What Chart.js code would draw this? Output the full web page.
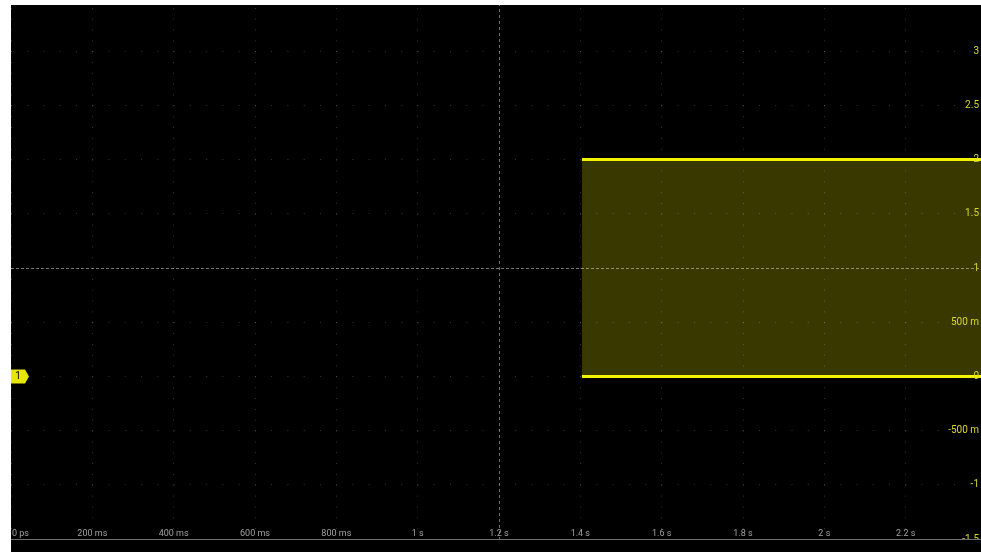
<!DOCTYPE html>
<html>
<head>
<meta charset="utf-8">
<script src="https://cdn.jsdelivr.net/npm/chart.js@4/dist/chart.umd.min.js"></script>
<style>
  html, body { margin: 0; padding: 0; background: #fff; width: 981px; height: 552px; overflow: hidden; }
  #scope { position: absolute; left: 11px; top: 5px; width: 970px; height: 547px; background: #000; overflow: hidden; }
  #plot { position: absolute; left: 0; top: -8px; width: 976px; height: 543px; }
</style>
</head>
<body>
<div id="scope">
  <div id="plot"><canvas id="myChart"></canvas></div>
</div>
<script>
// time axis (seconds) and its labels
const xTickLabels = ['0 ps', '200 ms', '400 ms', '600 ms', '800 ms', '1 s', '1.2 s', '1.4 s', '1.6 s', '1.8 s', '2 s', '2.2 s'];
// volts axis
const yTickValues = [-1.5, -1, -0.5, 0, 0.5, 1, 1.5, 2, 2.5, 3, 3.5];
const yTickLabels = ['-1.5', '-1', '-500 m', '0', '500 m', '1', '1.5', '2', '2.5', '3', '3.5'];

// channel 1 envelope (fast square wave seen as a band)
const signalTime = [1.404, 2.4];
const signalHigh = [2, 2];
const signalLow = [0, 0];

const ctx = document.getElementById('myChart');

const near = (a, b) => Math.abs(a - b) < 1e-6;

// tick labels are drawn inside the screen, scope style
const axisLabels = {
    id: 'axisLabels',
    afterDatasetsDraw(chart) {
        const c = chart.ctx;
        const xs = chart.scales.x;
        const ys = chart.scales.y;
        const area = chart.chartArea;
        c.save();
        c.font = '9px Roboto, sans-serif';
        c.fillStyle = '#a0a0a0';
        c.textBaseline = 'alphabetic';
        xs.ticks.forEach((t, i) => {
            if (i >= xTickLabels.length) return;
            const px = xs.getPixelForValue(t.value);
            c.textAlign = i === 0 ? 'left' : 'center';
            c.fillText(xTickLabels[i], i === 0 ? px + 1 : px, area.bottom - 3);
        });

        c.font = '10px Roboto, sans-serif';
        c.fillStyle = '#d8d82a';
        c.textAlign = 'right';
        c.textBaseline = 'middle';
        ys.ticks.forEach((t) => {
            const i = yTickValues.findIndex(v => near(v, t.value));
            if (i < 0) return;
            c.fillText(yTickLabels[i], area.right - 8, ys.getPixelForValue(t.value));
        });

        // bottom edge of the screen
        c.strokeStyle = '#707070';
        c.lineWidth = 1;
        c.beginPath();
        c.moveTo(area.left, area.bottom + 0.5);
        c.lineTo(area.right, area.bottom + 0.5);
        c.stroke();
        c.restore();
    }
};

const chMarker = {
    id: 'chMarker',
    afterDatasetsDraw(chart) {
        const c = chart.ctx;
        const y = chart.scales.y.getPixelForValue(0);
        const x = chart.chartArea.left;
        c.save();
        c.fillStyle = '#e6e600';
        c.beginPath();
        c.moveTo(x, y - 7);
        c.lineTo(x + 14, y - 7);
        c.lineTo(x + 18, y);
        c.lineTo(x + 14, y + 7);
        c.lineTo(x, y + 7);
        c.closePath();
        c.fill();
        c.fillStyle = '#000';
        c.font = '10px Roboto, sans-serif';
        c.textAlign = 'center';
        c.textBaseline = 'middle';
        c.fillText('1', x + 7, y + 0.5);
        c.restore();
    }
};

new Chart(ctx, {
    type: 'line',
    data: {
        datasets: [{
            label: 'high',
            data: signalTime.map((t, i) => ({ x: t, y: signalHigh[i] })),
            borderColor: '#f2f200',
            borderWidth: 3,
            pointRadius: 0,
            fill: '+1',
            backgroundColor: 'rgba(255, 255, 0, 0.22)',
        }, {
            label: 'low',
            data: signalTime.map((t, i) => ({ x: t, y: signalLow[i] })),
            borderColor: '#f2f200',
            borderWidth: 3,
            pointRadius: 0,
            fill: false,
        }]
    },
    options: {
        responsive: true,
        maintainAspectRatio: false,
        animation: false,
        events: [],
        layout: { padding: { left: 0, right: 0, top: 0, bottom: 1 } },
        plugins: {
            legend: { display: false },
            tooltip: { enabled: false }
        },
        scales: {
            x: {
                type: 'linear',
                min: 0,
                max: 2.4,
                ticks: { display: false, stepSize: 0.2 },
                grid: {
                    drawTicks: false,
                    color: (c) => near(c.tick.value, 1.2) ? 'rgba(200, 200, 200, 0.55)' : 'rgba(255, 255, 255, 0.2)',
                    lineWidth: 1,
                },
                border: {
                    display: false,
                    dash: (c) => c.tick && near(c.tick.value, 1.2) ? [3, 3] : [1, 9.84],
                }
            },
            y: {
                type: 'linear',
                position: 'right',
                min: -1.5,
                max: 3.5,
                afterBuildTicks: (scale) => {
                    scale.ticks = yTickValues.map(v => ({ value: v }));
                },
                ticks: { display: false },
                grid: {
                    drawTicks: false,
                    color: (c) => near(c.tick.value, 1) ? 'rgba(200, 200, 200, 0.6)' : 'rgba(255, 255, 255, 0.2)',
                    lineWidth: 1,
                },
                border: {
                    display: false,
                    dash: (c) => c.tick && near(c.tick.value, 1) ? [3, 2] : [1, 15.26],
                }
            }
        }
    },
    plugins: [axisLabels, chMarker]
});
</script>
</body>
</html>
